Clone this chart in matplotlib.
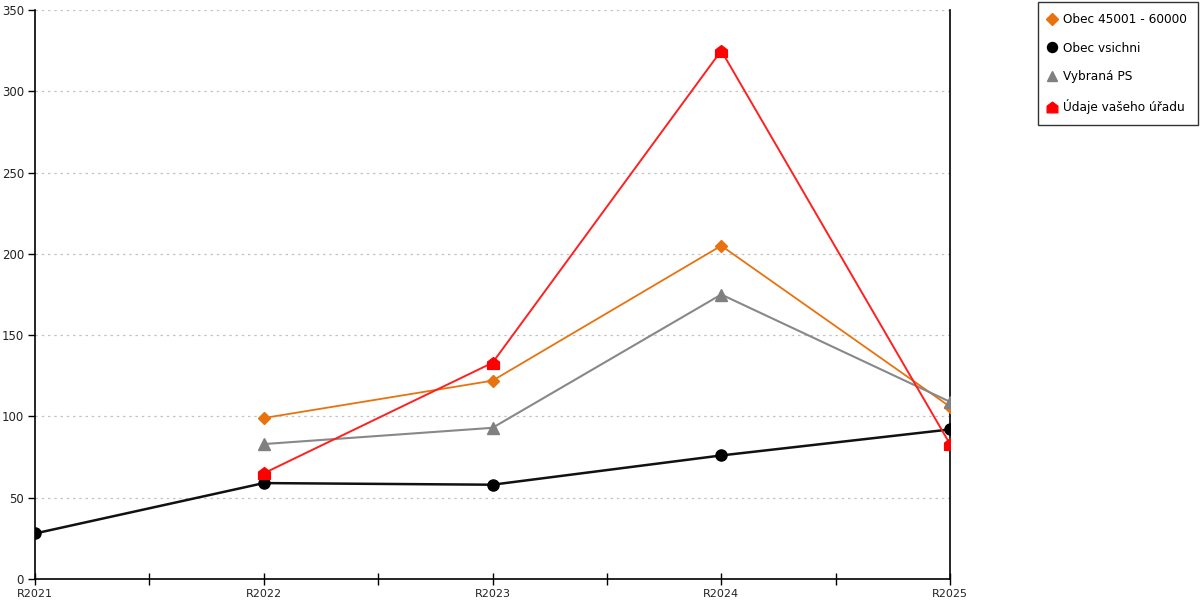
import matplotlib.pyplot as plt
import numpy as np
from matplotlib.path import Path
from matplotlib.ticker import MultipleLocator

roky = ['R2021', 'R2022', 'R2023', 'R2024', 'R2025']
obec_45001 = [np.nan, 99, 122, 205, 106]
obec_vsichni = [28, 59, 58, 76, 92]
vybrana_ps = [np.nan, 83, 93, 175, 109]
udaje_uradu = [np.nan, 65, 133, 325, 83]

# domecek jako znacka pro data uradu
domek = Path([(-1, -1), (1, -1), (1, 0.25), (0, 1), (-1, 0.25), (-1, -1)],
             [Path.MOVETO, Path.LINETO, Path.LINETO, Path.LINETO, Path.LINETO, Path.CLOSEPOLY])

fig = plt.figure(figsize=(12, 6), dpi=100)
ax = fig.add_axes([35 / 1200, 21 / 600, 915 / 1200, 569 / 600])

x = np.arange(len(roky))
ax.plot(x, obec_45001, color='#e8730e', lw=1.3, marker='D', ms=6.5, label='Obec 45001 - 60000', zorder=3)
ax.plot(x, obec_vsichni, color='#111111', lw=1.8, marker='o', ms=8, mfc='black', mec='black',
        label='Obec vsichni', zorder=3)
ax.plot(x, vybrana_ps, color='#888888', lw=1.5, marker='^', ms=8, mfc='#808080', mec='#808080',
        label='Vybraná PS', zorder=3)
ax.plot(x, udaje_uradu, color='#ff2020', lw=1.4, marker=domek, ms=8.5, mfc='red', mec='red',
        label='Údaje vašeho úřadu', zorder=4)

ax.set_xlim(0, 4)
ax.set_ylim(0, 350)
ax.set_xticks(x)
ax.set_xticklabels(roky)
ax.xaxis.set_minor_locator(MultipleLocator(0.5))
ax.yaxis.set_major_locator(MultipleLocator(50))

ax.grid(axis='y', color='#c4c4c4', linestyle=(0, (2, 3)), lw=0.9)
ax.set_axisbelow(True)

ax.spines['top'].set_visible(False)
for s in ['left', 'bottom', 'right']:
    ax.spines[s].set_color('black')
    ax.spines[s].set_linewidth(1.2)

ax.tick_params(axis='x', which='both', direction='inout', length=8, width=1, labelsize=8, pad=3)
ax.tick_params(axis='y', direction='out', length=5, width=1, labelsize=8.5, pad=3)
for lbl in ax.get_xticklabels() + ax.get_yticklabels():
    lbl.set_color('#222222')

leg = fig.legend(loc='upper right', bbox_to_anchor=(1198 / 1200, 598 / 600), fontsize=8.7,
                 frameon=True, fancybox=False, edgecolor='black', labelspacing=1.3,
                 handlelength=0.55, handletextpad=0.65, borderpad=0.9, borderaxespad=0,
                 markerscale=0.9)
leg.get_frame().set_linewidth(1.0)
for h in leg.get_lines():
    h.set_linestyle('')

fig.savefig('out.png', dpi=100)
